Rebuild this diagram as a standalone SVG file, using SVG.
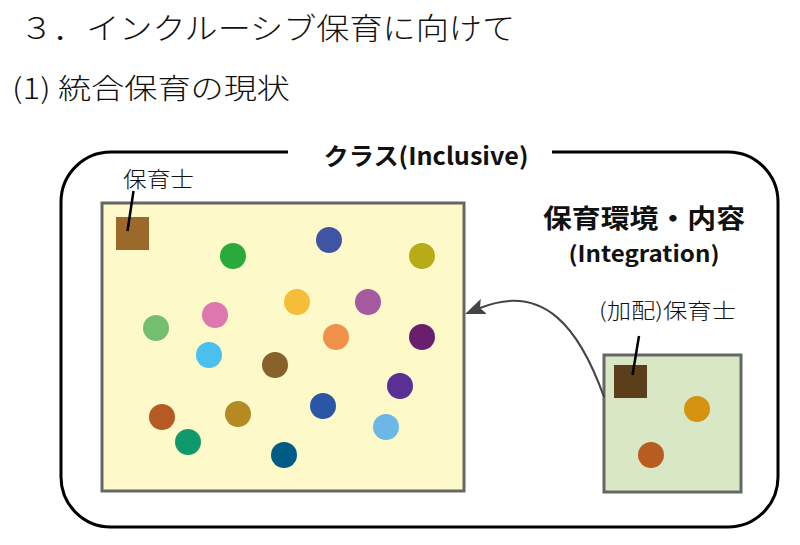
<svg xmlns="http://www.w3.org/2000/svg" width="800" height="545" viewBox="0 0 800 545">
<defs>
<style>
.t{font-family:"Noto Sans CJK JP","Noto Sans",sans-serif;fill:#111;font-weight:300}
.b{font-weight:bold}
.box{stroke:#666;stroke-width:3}
.tick{stroke:#000;stroke-width:2.5}
</style>
<marker id="ah" markerWidth="20" markerHeight="16" refX="4" refY="8" orient="auto" markerUnits="userSpaceOnUse" viewBox="0 0 20 16">
<path d="M0,0 L20,8 L0,16 L4,8 Z" fill="#444"/>
</marker>
</defs>
<rect width="800" height="545" fill="#fff"/>
<text class="t" x="20" y="39" font-size="30" textLength="495" lengthAdjust="spacingAndGlyphs">３．インクルーシブ保育に向けて</text>
<text class="t" x="12" y="99" font-size="28" textLength="278" lengthAdjust="spacingAndGlyphs">(1) 統合保育の現状</text>

<g id="class-frame">
<path d="M288,152 H111 A50,50 0 0 0 61,202 V477 A50,50 0 0 0 111,527 H728 A50,50 0 0 0 778,477 V202 A50,50 0 0 0 728,152 H552" fill="none" stroke="#000" stroke-width="3"/>
<text class="t b" x="426" y="165" font-size="24" text-anchor="middle" textLength="205" lengthAdjust="spacingAndGlyphs">クラス(Inclusive)</text>
</g>

<g id="class-room">
<rect class="box" x="102" y="203" width="362" height="288" fill="#FEF9C8"/>
<g id="teacher">
<rect x="116" y="217" width="33" height="33" fill="#9B6A2A"/>
<line class="tick" x1="133.5" y1="191" x2="127.5" y2="231"/>
<text class="t" x="123" y="187" font-size="22" textLength="71" lengthAdjust="spacingAndGlyphs" fill="#333">保育士</text>
</g>
<g id="children">
<circle cx="233" cy="256" r="13" fill="#2AAA3A"/>
<circle cx="329" cy="240" r="13" fill="#3F54A3"/>
<circle cx="422" cy="256" r="13" fill="#B7AB18"/>
<circle cx="297" cy="302" r="13" fill="#F5BE38"/>
<circle cx="368" cy="302" r="13" fill="#A55AA0"/>
<circle cx="215" cy="315" r="13" fill="#DD77AD"/>
<circle cx="156" cy="328" r="13" fill="#74BE6F"/>
<circle cx="336" cy="337" r="13" fill="#F0914A"/>
<circle cx="422" cy="337" r="13" fill="#6A1F6E"/>
<circle cx="209" cy="355" r="13" fill="#4BC0EF"/>
<circle cx="275" cy="365" r="13" fill="#87602A"/>
<circle cx="400" cy="386" r="13" fill="#5A3092"/>
<circle cx="323" cy="406" r="13" fill="#2A56A5"/>
<circle cx="162" cy="417" r="13" fill="#B55A25"/>
<circle cx="238" cy="414" r="13" fill="#B58A22"/>
<circle cx="386" cy="427" r="13" fill="#6CB7E6"/>
<circle cx="188" cy="442" r="13" fill="#109A6C"/>
<circle cx="284" cy="455" r="13" fill="#005A86"/>
</g>
</g>

<g id="integration">
<text class="t b" x="644" y="228" font-size="26" text-anchor="middle" textLength="202" lengthAdjust="spacingAndGlyphs">保育環境・内容</text>
<text class="t b" x="644" y="262" font-size="22" text-anchor="middle" textLength="151" lengthAdjust="spacingAndGlyphs">(Integration)</text>
<rect class="box" x="604" y="355" width="137" height="137" fill="#D8E8C4"/>
<g id="extra-teacher">
<rect x="614" y="365" width="33" height="33" fill="#5A3F1A"/>
<line class="tick" x1="639" y1="336" x2="632.5" y2="375"/>
<text class="t" x="599" y="318" font-size="21" textLength="137" lengthAdjust="spacingAndGlyphs" fill="#333">(加配)保育士</text>
</g>
<circle cx="697" cy="409" r="13" fill="#D49412"/>
<circle cx="651" cy="455" r="13" fill="#B85C22"/>
</g>

<g id="connectors">
<path d="M604,397 C580,330 545,282 480,308" fill="none" stroke="#444" stroke-width="2" marker-end="url(#ah)"/>
</g>
</svg>
